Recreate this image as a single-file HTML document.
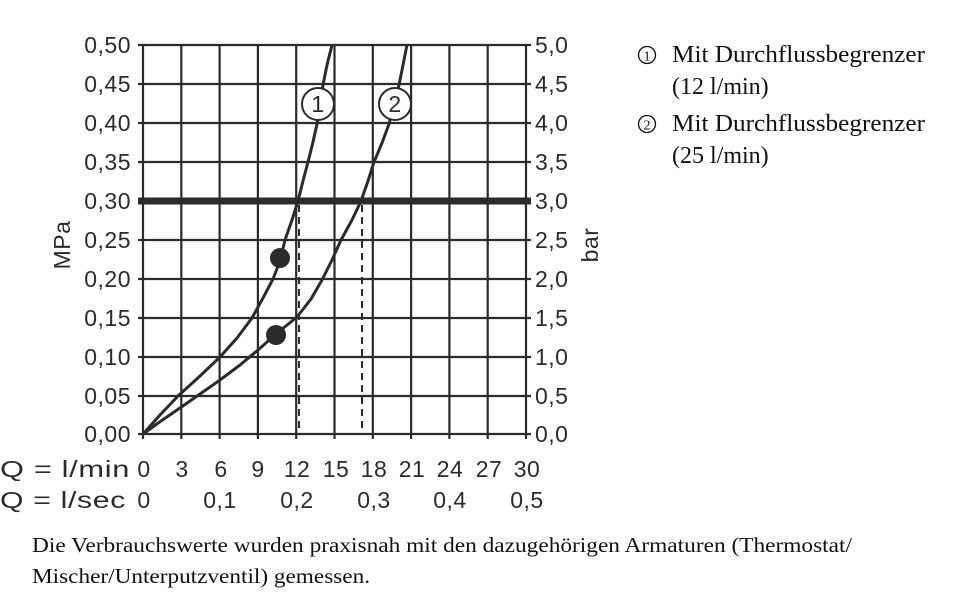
<!DOCTYPE html>
<html><head><meta charset="utf-8"><style>
body{margin:0;background:#fff;}
svg{display:block}
.a{font-family:"Liberation Sans",sans-serif;font-size:23px;fill:#2b2b2b;letter-spacing:0.5px}
.s{font-family:"Liberation Serif",serif;font-size:24px;fill:#111}
</style></head><body>
<svg width="960" height="612" viewBox="0 0 960 612">
<g stroke="#2b2b2b" stroke-width="2.2" fill="none">
<path d="M143 45V434M181.3 45V434M219.6 45V434M257.9 45V434M296.2 45V434M334.5 45V434M372.8 45V434M411.1 45V434M449.4 45V434M487.7 45V434M526 45V434"/>
<path d="M138 45H531M138 84H531M138 123H531M138 162H531M138 240H531M138 279H531M138 318H531M138 357H531M138 396H531M138 434H531"/>
<path d="M143 434v5M181.3 434v5M219.6 434v5M257.9 434v5M296.2 434v5M334.5 434v5M372.8 434v5M411.1 434v5M449.4 434v5M487.7 434v5M526 434v5"/>
</g>
<rect x="138" y="197.5" width="393" height="7" fill="#2b2b2b"/>
<g stroke="#2b2b2b" stroke-width="2" stroke-dasharray="7,5">
<path d="M299 205V434M362 205V434"/>
</g>
<g stroke="#2b2b2b" stroke-width="3" fill="none" stroke-linejoin="round">
<polyline points="143,434 160,415 178,396 200,376 220,357 237,338 252,318 263,298 273,279 280,261 285,240 292,220 298,201 303,181 308,162 313,142 317,124 320,104 323,85 327,65 332,45"/>
<polyline points="143,434 161,421 180,408 200,394 220,380 240,365 258,350 276,334 297,317 311,299 322,280 332,260 341,240 352,220 361,201 368,181 374,162 382,143 389,124 394,104 399,85 403,65 407,45"/>
</g>
<circle cx="280" cy="258" r="10" fill="#2b2b2b"/>
<circle cx="276" cy="335" r="10" fill="#2b2b2b"/>
<circle cx="318" cy="104" r="16" fill="#fff" stroke="#2b2b2b" stroke-width="2"/>
<circle cx="395" cy="104" r="16" fill="#fff" stroke="#2b2b2b" stroke-width="2"/>
<text x="318" y="112" class="a" text-anchor="middle">1</text>
<text x="395" y="112" class="a" text-anchor="middle">2</text>
<g class="a" text-anchor="end">
<text x="131" y="53">0,50</text><text x="131" y="92">0,45</text><text x="131" y="131">0,40</text><text x="131" y="170">0,35</text><text x="131" y="209">0,30</text><text x="131" y="248">0,25</text><text x="131" y="287">0,20</text><text x="131" y="326">0,15</text><text x="131" y="365">0,10</text><text x="131" y="404">0,05</text><text x="131" y="442">0,00</text>
</g>
<g class="a">
<text x="535" y="53">5,0</text><text x="535" y="92">4,5</text><text x="535" y="131">4,0</text><text x="535" y="170">3,5</text><text x="535" y="209">3,0</text><text x="535" y="248">2,5</text><text x="535" y="287">2,0</text><text x="535" y="326">1,5</text><text x="535" y="365">1,0</text><text x="535" y="404">0,5</text><text x="535" y="442">0,0</text>
</g>
<text class="a" transform="translate(70,245) rotate(-90)" text-anchor="middle">MPa</text>
<text class="a" transform="translate(598,245) rotate(-90)" text-anchor="middle">bar</text>
<g class="a" text-anchor="middle">
<text x="0" y="477" text-anchor="start" textLength="130" lengthAdjust="spacingAndGlyphs">Q = l/min</text>
<text x="144" y="477">0</text><text x="182" y="477">3</text><text x="221" y="477">6</text><text x="258" y="477">9</text><text x="297" y="477">12</text><text x="336" y="477">15</text><text x="374" y="477">18</text><text x="412" y="477">21</text><text x="450" y="477">24</text><text x="489" y="477">27</text><text x="527" y="477">30</text>
<text x="0" y="508" text-anchor="start" textLength="126" lengthAdjust="spacingAndGlyphs">Q = l/sec</text>
<text x="144" y="508">0</text><text x="220" y="508">0,1</text><text x="297" y="508">0,2</text><text x="374" y="508">0,3</text><text x="450" y="508">0,4</text><text x="527" y="508">0,5</text>
</g>
<g stroke="#111" stroke-width="1.3" fill="none">
<circle cx="647" cy="55" r="8.5"/><circle cx="647" cy="124" r="8.5"/>
</g>
<g class="s">
<text x="647" y="60.5" style="font-size:14px" text-anchor="middle">1</text>
<text x="647" y="129.5" style="font-size:14px" text-anchor="middle">2</text>
<text x="672" y="62" textLength="253" lengthAdjust="spacingAndGlyphs">Mit Durchflussbegrenzer</text>
<text x="672" y="94">(12 l/min)</text>
<text x="672" y="131" textLength="253" lengthAdjust="spacingAndGlyphs">Mit Durchflussbegrenzer</text>
<text x="672" y="163">(25 l/min)</text>
<text x="32" y="552" style="font-size:21px" textLength="820" lengthAdjust="spacingAndGlyphs">Die Verbrauchswerte wurden praxisnah mit den dazugehörigen Armaturen (Thermostat/</text>
<text x="32" y="583" style="font-size:21px" textLength="338" lengthAdjust="spacingAndGlyphs">Mischer/Unterputzventil) gemessen.</text>
</g>
</svg>
</body></html>
